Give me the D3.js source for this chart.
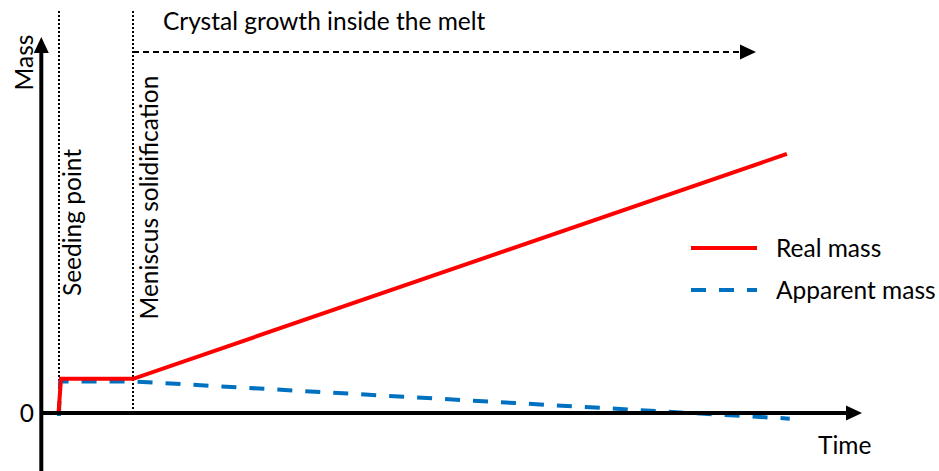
<!DOCTYPE html>
<html>
<head>
<meta charset="utf-8">
<script src="https://cdn.jsdelivr.net/npm/d3@7/dist/d3.min.js"></script>
<style>
  html, body { margin: 0; padding: 0; background: #fff; }
  svg text { font-family: Lato, "Open Sans", sans-serif; fill: #000; font-size: 24.5px; }
</style>
</head>
<body>
<svg id="chart" width="939" height="471"></svg>
<script>
// Schematic of crystal mass vs. time (arbitrary units)
const realTime      = [2.1, 2.4, 11.2, 90.85];
const realMass      = [0, 9.1, 9.1, 68.9];
const apparentTime  = [2.15, 2.3, 11.2, 91.2];
const apparentMass  = [-0.8, 8.4, 8.4, -1.5];

const phaseTimes  = [2.15, 11.2];
const phaseLabels = ["Seeding point", "Meniscus solidification"];
const growthLabel = "Crystal growth inside the melt";
const seriesNames = ["Real mass", "Apparent mass"];
const yTickValues = [0];
const axisTitles  = ["Time", "Mass"];

const W = 939, H = 471;
const svg = d3.select("#chart");

const x = d3.scaleLinear().domain([0, 100]).range([41.3, 862]);
const y = d3.scaleLinear().domain([0, 100]).range([413, 37]);

const markerTop = y.invert(10);
const growthY = y.invert(52);
const growthEnd = x.invert(756);

// phase markers (dotted verticals), snapped to whole pixels
svg.selectAll("line.phase").data(phaseTimes).join("line")
  .attr("class", "phase")
  .attr("x1", d => Math.round(x(d))).attr("x2", d => Math.round(x(d)))
  .attr("y1", y(0)).attr("y2", y(markerTop))
  .attr("stroke", "#000").attr("stroke-width", 2)
  .attr("stroke-dasharray", "2,2")
  .attr("shape-rendering", "crispEdges");

// phase labels, rotated
const labelBaseline = [81, 158];
const labelCenter = [222.5, 197.5];
svg.selectAll("text.phase").data(phaseLabels).join("text")
  .attr("class", "phase")
  .attr("transform", (d, i) => `translate(${labelBaseline[i]},${labelCenter[i]}) rotate(-90)`)
  .attr("text-anchor", "middle")
  .text(d => d);

// growth arrow
svg.append("line")
  .attr("x1", Math.round(x(phaseTimes[1]))).attr("x2", x(growthEnd) - 14)
  .attr("y1", y(growthY)).attr("y2", y(growthY))
  .attr("stroke", "#000").attr("stroke-width", 2)
  .attr("stroke-dasharray", "6,4")
  .attr("shape-rendering", "crispEdges");
svg.append("path")
  .attr("d", `M${x(growthEnd)},${y(growthY)} L${x(growthEnd) - 16},${y(growthY) - 7.5} L${x(growthEnd) - 16},${y(growthY) + 7.5} Z`)
  .attr("fill", "#000");
svg.append("text")
  .attr("x", 163).attr("y", 30)
  .text(growthLabel);

// series
const line = d3.line().x(d => x(d[0])).y(d => y(d[1]));
const realPts = realTime.map((t, i) => [t, realMass[i]]);
const appPts = apparentTime.map((t, i) => [t, apparentMass[i]]);

svg.append("path").datum(appPts)
  .attr("d", line).attr("fill", "none")
  .attr("stroke", "#0070C0").attr("stroke-width", 4)
  .attr("stroke-dasharray", "15,13");

svg.append("path").datum(realPts)
  .attr("d", line).attr("fill", "none")
  .attr("stroke", "#FF0000").attr("stroke-width", 4)
  .attr("stroke-linejoin", "miter");

// axes
svg.append("line")
  .attr("x1", x(0)).attr("x2", x(0))
  .attr("y1", H + 2).attr("y2", y(100) + 14)
  .attr("stroke", "#000").attr("stroke-width", 4);
svg.append("path")
  .attr("d", `M${x(0)},${y(100)} L${x(0) - 7.5},${y(100) + 16} L${x(0) + 7.5},${y(100) + 16} Z`)
  .attr("fill", "#000");
svg.append("line")
  .attr("x1", x(0)).attr("x2", x(100) - 14)
  .attr("y1", y(0)).attr("y2", y(0))
  .attr("stroke", "#000").attr("stroke-width", 4);
svg.append("path")
  .attr("d", `M${x(100)},${y(0)} L${x(100) - 16},${y(0) - 7.5} L${x(100) - 16},${y(0) + 7.5} Z`)
  .attr("fill", "#000");

svg.selectAll("text.ytick").data(yTickValues).join("text")
  .attr("class", "ytick")
  .attr("x", 34).attr("y", d => y(d))
  .attr("dy", "0.35em")
  .attr("text-anchor", "end")
  .text(d => d);

svg.append("text")
  .attr("x", 818).attr("y", 454)
  .text(axisTitles[0]);
svg.append("text")
  .attr("transform", "translate(33,62.5) rotate(-90)")
  .attr("text-anchor", "middle")
  .text(axisTitles[1]);

// legend
const legend = svg.append("g");
const legendY = [248, 290];
const legendStyles = [
  { color: "#FF0000", dash: null },
  { color: "#0070C0", dash: "15,13" }
];
seriesNames.forEach((name, i) => {
  legend.append("line")
    .attr("x1", 691).attr("x2", 757)
    .attr("y1", legendY[i]).attr("y2", legendY[i])
    .attr("stroke", legendStyles[i].color).attr("stroke-width", 4)
    .attr("stroke-dasharray", legendStyles[i].dash);
  legend.append("text")
    .attr("x", 776).attr("y", legendY[i])
    .attr("dy", "0.35em")
    .text(name);
});
</script>
</body>
</html>
